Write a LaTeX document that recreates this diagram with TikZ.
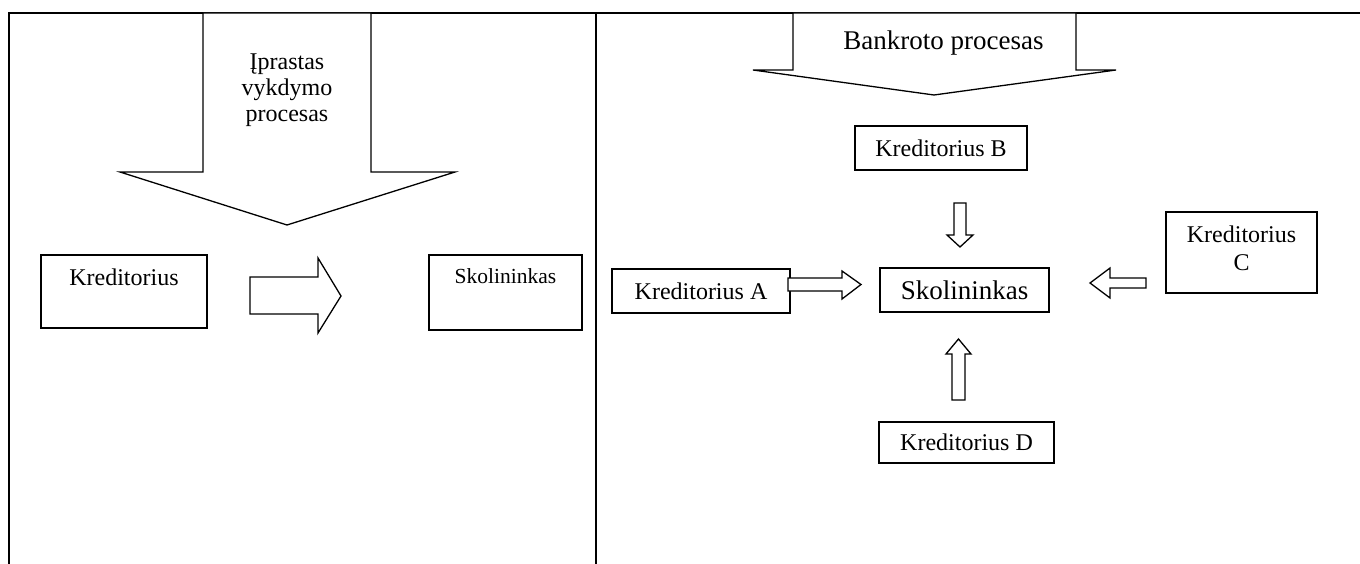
\documentclass[tikz,border=0pt]{standalone}
\usepackage{fontspec}
\setmainfont{Liberation Serif}
\begin{document}
\begin{tikzpicture}[x=1pt,y=-1pt,
  box/.style={draw, line width=1.3pt, inner sep=0pt, font=\fontsize{24}{27}\selectfont},
  txt/.style={inner sep=0pt, font=\fontsize{24}{26}\selectfont},
  blockarrow/.style={draw, line width=1.3pt, fill=white, line join=miter},
  border/.style={line width=2pt}]
\useasboundingbox (0,0) rectangle (1360,564);
% table borders
\draw[border] (8.5,564) -- (8.5,13) -- (1360,13);
\draw[border] (596,13) -- (596,564);

% ---- left panel ----
\draw[blockarrow] (203,13) -- (371,13) -- (371,172) -- (455,172) -- (287,225) -- (120,172) -- (203,172) -- cycle;
\node[txt, anchor=base] (t1) at (287,70) {Įprastas};
\node[txt, anchor=base] (t2) at (287,96) {vykdymo};
\node[txt, anchor=base] (t3) at (287,122) {procesas};

\node[box, minimum width=166pt, minimum height=73pt] (kl) at (124,291.5) {};
\node[txt, anchor=base] (klt) at (124,285) {Kreditorius};
\node[box, minimum width=153pt, minimum height=75pt] (sl) at (505.5,292.5) {};
\node[txt, anchor=base, font=\fontsize{21.5}{24}\selectfont] (slt) at (505.5,283) {Skolininkas};
\draw[blockarrow] (250,277) -- (318,277) -- (318,258) -- (341,296) -- (318,333) -- (318,314) -- (250,314) -- cycle;

% ---- right panel ----
\draw[blockarrow] (793,13) -- (1076,13) -- (1076,70) -- (1116,70) -- (934,95) -- (753,70) -- (793,70) -- cycle;
\node[txt, anchor=base, font=\fontsize{27}{30}\selectfont] (bt) at (943.5,50) {Bankroto procesas};

\node[box, minimum width=172pt, minimum height=44pt] (kb) at (941,148) {Kreditorius B};
\node[box, minimum width=169pt, minimum height=44pt, font=\fontsize{27}{30}\selectfont] (sc) at (964.5,290) {Skolininkas};
\node[box, minimum width=178pt, minimum height=44pt] (ka) at (701,291) {Kreditorius A};
\node[box, minimum width=151pt, minimum height=81pt] (kc) at (1241.5,252.5) {};
\node[txt, anchor=base] (kct1) at (1241.5,243) {Kreditorius};
\node[txt, anchor=base] (kct2) at (1241.5,270) {C};
\node[box, minimum width=175pt, minimum height=41pt] (kd) at (966.5,442.5) {Kreditorius D};

% block arrows
\draw[blockarrow] (954,203) -- (966,203) -- (966,235) -- (973,235) -- (960,247) -- (947,235) -- (954,235) -- cycle;
\draw[blockarrow] (788,278) -- (842,278) -- (842,271) -- (861,284.5) -- (842,299) -- (842,291) -- (788,291) -- cycle;
\draw[blockarrow] (1146,278) -- (1110,278) -- (1110,268) -- (1090,283) -- (1110,298) -- (1110,288) -- (1146,288) -- cycle;
\draw[blockarrow] (952,400) -- (965,400) -- (965,354) -- (971,354) -- (958.5,339) -- (946,354) -- (952,354) -- cycle;
\end{tikzpicture}
\end{document}
